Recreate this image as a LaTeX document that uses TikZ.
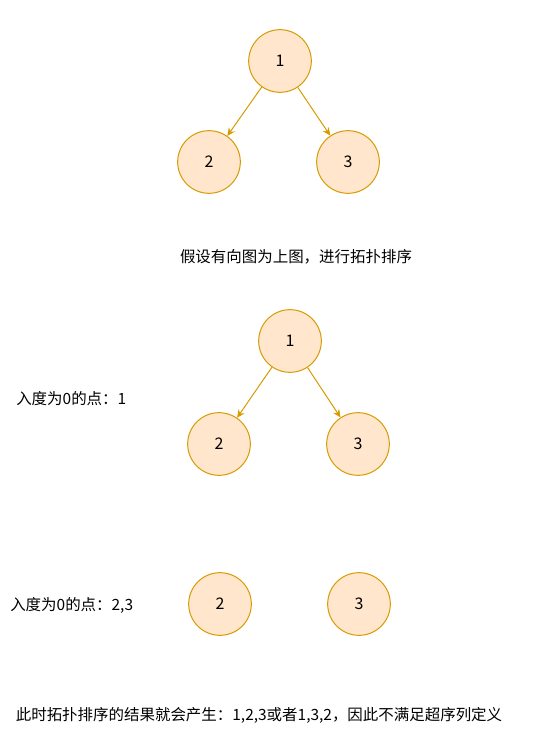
\documentclass[tikz,border=0pt]{standalone}
\usepackage{fontspec}
\setmainfont{Noto Sans CJK SC}
\usepackage{xcolor}
\usepackage{tikz}
\usetikzlibrary{arrows.meta}
\definecolor{vfill}{HTML}{FFE6CC}
\definecolor{vline}{HTML}{D79B00}
\tikzstyle{vertex} = [circle, draw=vline, fill=vfill, line width=0.75pt,
                     minimum size=47pt, inner sep=0pt, font=\fontsize{12}{14}\selectfont]
\tikzstyle{edge} = [draw=vline, line width=0.75pt, -{Stealth[length=6pt,width=5.5pt]}]
\tikzstyle{note} = [inner sep=0pt, font=\fontsize{11.6}{14}\selectfont]

\begin{document}
\begin{tikzpicture}[x=0.75pt, y=-0.75pt]
\useasboundingbox (0,0) rectangle (533,737);
%Graph
\node[vertex] at (280,61) (a1){1};
\node[vertex] at (209,162) (a2){2};
\node[vertex] at (348,162) (a3){3};
\draw[edge] (a1) -- (a2);
\draw[edge] (a1) -- (a3);
\node[note] at (296,257) (cap){假设有向图为上图，进行拓扑排序};

% Step 1
\node[vertex] at (290,341) (b1){1};
\node[vertex] at (219,444) (b2){2};
\node[vertex] at (358,444) (b3){3};
\draw[edge] (b1) -- (b2);
\draw[edge] (b1) -- (b3);
\node[note, anchor=west] at (16,399) (deg1){入度为0的点：1};

% Step 2
\node[vertex] at (220,604) (c2){2};
\node[vertex] at (359,604) (c3){3};
\node[note, anchor=west] at (10,605) (deg2){入度为0的点：2,3};

\node[note] at (259,715) (res){此时拓扑排序的结果就会产生：1,2,3或者1,3,2，因此不满足超序列定义};
\end{tikzpicture}
\end{document}
